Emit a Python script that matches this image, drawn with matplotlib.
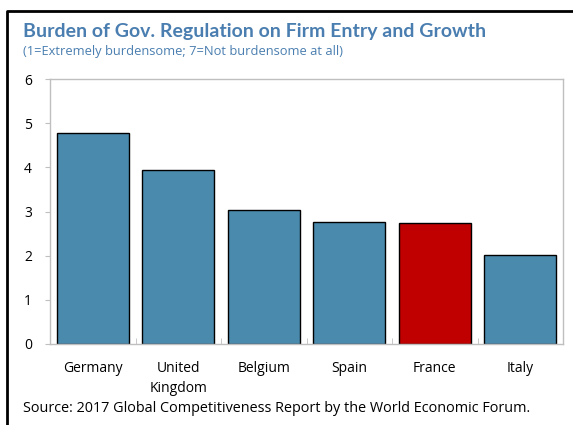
import numpy as np
import matplotlib.pyplot as plt

countries = ["Germany", "United\nKingdom", "Belgium", "Spain", "France", "Italy"]
scores = [4.77, 3.95, 3.04, 2.77, 2.73, 2.01]
colors = ["#4A8BAD", "#4A8BAD", "#4A8BAD", "#4A8BAD", "#C00000", "#4A8BAD"]

plt.rcParams['font.family'] = ['Open Sans', 'DejaVu Sans']

fig = plt.figure(figsize=(5.73, 4.25), dpi=100)
ax = fig.add_axes([50 / 573, 0.1906, 513 / 573, 0.6234])

x = np.arange(len(countries))
ax.bar(x, scores, width=0.84, color=colors, edgecolor="black", linewidth=1.0)

ax.set_xlim(-0.5, len(countries) - 0.5)
ax.set_ylim(0, 6)
ax.set_yticks(range(0, 7))
ax.tick_params(axis="y", length=3.5, color="#BFBFBF", labelsize=10, pad=9.5)
ax.set_xticks(x)
ax.set_xticklabels(countries, fontsize=10, linespacing=1.45)
ax.tick_params(axis="x", length=0, pad=12)
# small separators between categories
ax.set_xticks(np.arange(0.5, len(countries) - 0.5, 1.0), minor=True)
ax.tick_params(axis="x", which="minor", length=4, color="#BFBFBF", direction="in")
for s in ax.spines.values():
    s.set_color("#BFBFBF")
    s.set_linewidth(1.0)

# outer frame along the top and left edges of the figure
fx = 7 / 573
fy = 1 - 11 / 425
ax.plot([fx, fx, 1.0], [0.0, fy, fy], transform=fig.transFigure,
        clip_on=False, color="black", linewidth=2.0, zorder=10)

fig.text(23 / 573, 1 - 31 / 425, "Burden of Gov. Regulation on Firm Entry and Growth",
         family=["Lato", "DejaVu Sans"], fontsize=14, fontweight="bold",
         color="#4A7EB0", va="center", ha="left")
fig.text(23 / 573, 1 - 51 / 425, "(1=Extremely burdensome; 7=Not burdensome at all)",
         fontsize=9.3, color="#4A7EB0", va="center", ha="left")
fig.text(23 / 573, 1 - 409 / 425,
         "Source: 2017 Global Competitiveness Report by the World Economic Forum.",
         fontsize=10.4, color="black", va="center", ha="left")

fig.savefig("out.png", dpi=100)
